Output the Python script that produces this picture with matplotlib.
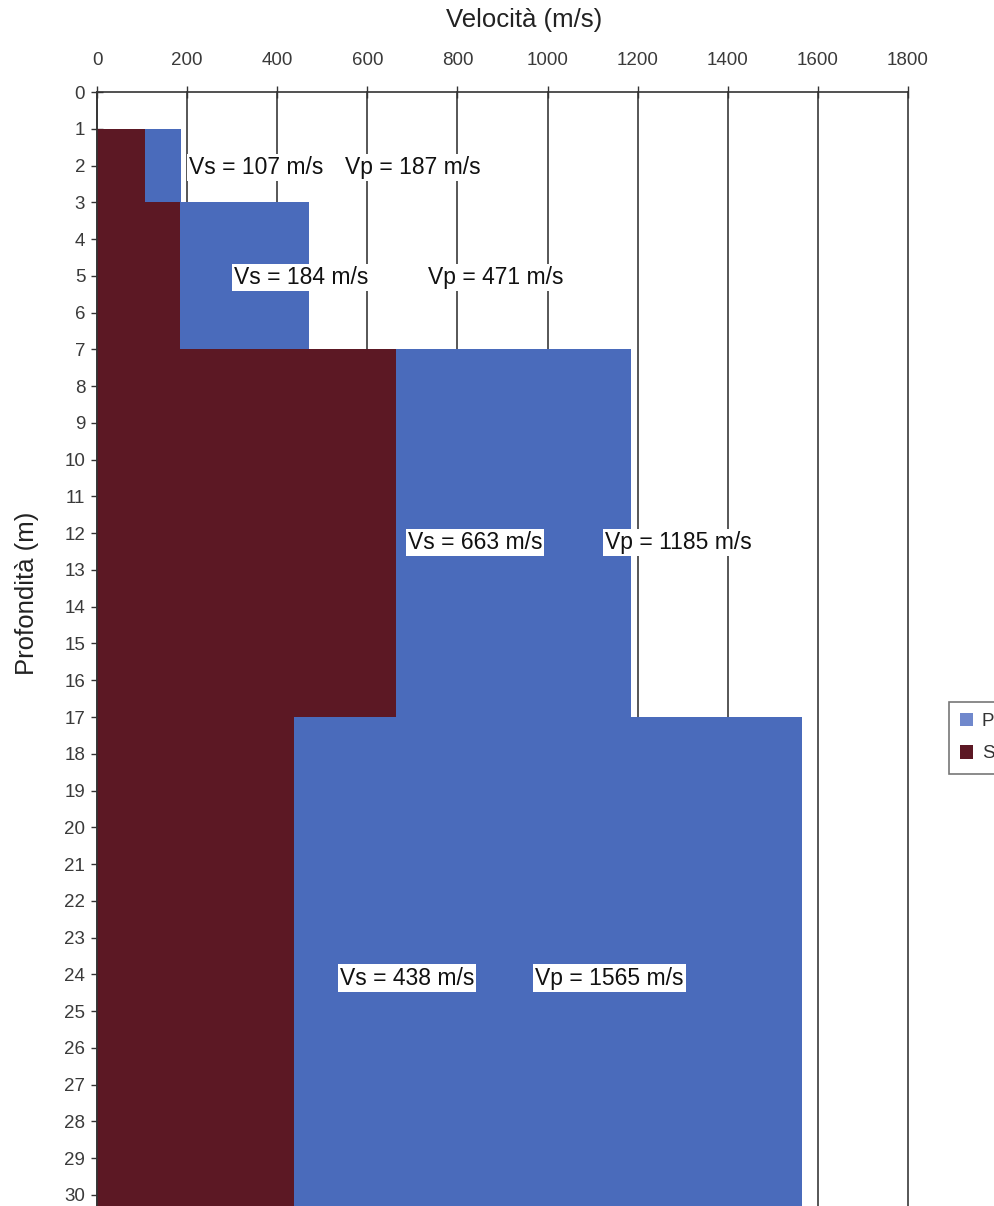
import matplotlib
matplotlib.use("Agg")
import matplotlib.pyplot as plt
from matplotlib.patches import Patch

plt.rcParams['font.family'] = ['Liberation Sans', 'DejaVu Sans']

# Layer model: depth intervals (m) and wave velocities (m/s)
layer_top = [1, 3, 7, 17]
layer_bottom = [3, 7, 17, 31]
vs = [107, 184, 663, 438]
vp = [187, 471, 1185, 1565]

x_ticks = [0, 200, 400, 600, 800, 1000, 1200, 1400, 1600, 1800]
y_ticks = list(range(0, 31))

blue = '#4a6bbb'
red = '#5c1824'

fig = plt.figure(figsize=(9.94, 12.06), dpi=100)
ax = fig.add_axes([0.0976, 0.0, 0.8159, 0.9237])

thick = [b - t for t, b in zip(layer_top, layer_bottom)]
ax.barh(layer_top, vp, height=thick, left=0, align='edge', color=blue,
        edgecolor='none', zorder=2, label='P')
ax.barh(layer_top, vs, height=thick, left=0, align='edge', color=red,
        edgecolor='none', zorder=3, label='S')

ax.set_xlim(0, 1800)
ax.set_ylim(30.3, 0)
ax.xaxis.tick_top()
ax.xaxis.set_label_position('top')
ax.set_xticks(x_ticks)
ax.set_yticks(y_ticks)
ax.tick_params(axis='both', direction='inout', length=9, width=1.0,
               colors='#333333', labelsize=13.5, pad=4)
ax.tick_params(axis='x', pad=12)
for lab in ax.get_xticklabels() + ax.get_yticklabels():
    lab.set_color('#3a3a3a')

ax.grid(axis='x', color='#3a3a3a', linewidth=1.2, zorder=1)
ax.set_axisbelow(True)
for gl in ax.get_xgridlines():
    gl.set_clip_on(False)
for tl in ax.xaxis.get_ticklines():
    tl.set_clip_on(False)

for side in ['right', 'bottom']:
    ax.spines[side].set_visible(False)
for side in ['left', 'top']:
    ax.spines[side].set_color('#333333')
    ax.spines[side].set_linewidth(1.2)
    ax.spines[side].set_zorder(4)

ax.set_xlabel('Velocità (m/s)', fontsize=18.5, color='#222222', va='center')
ax.xaxis.set_label_coords(0.527, 1.0646)
ax.set_ylabel('Profondità (m)', fontsize=18.5, color='#222222', va='center')
ax.yaxis.set_label_coords(-0.0863, 0.55)

# Annotation placement per layer: (x of Vs label, x of Vp label, depth)
label_pos = [(205, 550, 2.05), (304, 735, 5.05), (690, 1128, 12.25), (539, 972, 24.1)]
box = dict(facecolor='white', edgecolor='none', pad=1.5)
for (xs, xp, yd), s, p in zip(label_pos, vs, vp):
    ax.text(xs, yd, f'Vs = {s} m/s', fontsize=16.5, color='#111111',
            ha='left', va='center', bbox=box, zorder=5)
    ax.text(xp, yd, f'Vp = {p} m/s', fontsize=16.5, color='#111111',
            ha='left', va='center', bbox=box, zorder=5)

handles = [Patch(facecolor='#7088cc', edgecolor='none', label='P'),
           Patch(facecolor=red, edgecolor='none', label='S')]
leg = fig.legend(handles=handles, loc='upper left',
                 bbox_to_anchor=(949 / 994, 1 - 702 / 1206),
                 frameon=True, fancybox=False, fontsize=13.5,
                 handlelength=0.7, handleheight=0.7, handletextpad=0.45,
                 borderpad=0.6, labelspacing=0.8, borderaxespad=0)
leg.get_frame().set_edgecolor('#555555')
leg.get_frame().set_linewidth(1.2)
for t in leg.get_texts():
    t.set_color('#333333')

fig.savefig('out.png', dpi=100)
